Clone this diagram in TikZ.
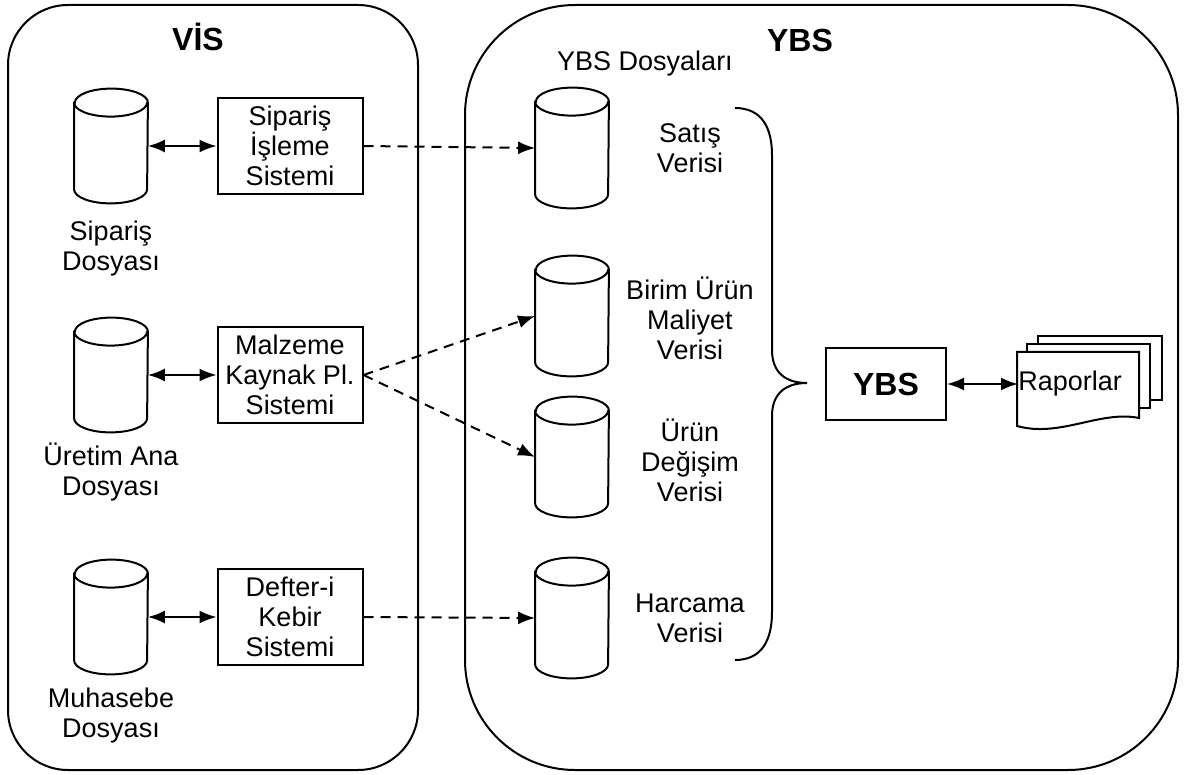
\documentclass[tikz,border=0pt]{standalone}
\usepackage{fontspec}
\setmainfont{Liberation Sans}
\usepackage{tikz}
\usetikzlibrary{arrows.meta, positioning}

\begin{document}
\begin{tikzpicture}[
        x=0.5pt, y=-0.5pt,
        font=\fontsize{13.5pt}{15pt}\selectfont,
        frame/.style={draw, line width=1pt, minimum height=382.5pt, inner sep=0pt},
        title/.style={font=\fontsize{16pt}{19pt}\selectfont\bfseries},
        sysbox/.style={rectangle, draw, line width=1pt, fill=white, minimum width=72.5pt, minimum height=48pt, align=center, inner sep=0pt},
        dbase/.style={rectangle, minimum width=36.5pt, minimum height=57pt, inner sep=0pt},
        caption/.style={align=center, inner sep=0pt},
        link/.style={draw, line width=1pt, {Latex[length=8.5pt,width=6.5pt]}-{Latex[length=8.5pt,width=6.5pt]}},
        feed/.style={draw, line width=1pt, dash pattern=on 5pt off 3.5pt, -{Latex[length=8.5pt,width=6.5pt]}}
    ]
        \useasboundingbox (0,0) rectangle (1184,775);

        % Frames
        \node [frame, rounded corners=30pt, minimum width=205pt] (vis) at (213,387.5) {};
        \node [frame, rounded corners=55pt, minimum width=356.5pt] (ybsarea) at (821.5,387.5) {};
        \node [title] (vistitle) at (198,37) {VİS};
        \node [title] (ybstitle) at (800,40) {YBS};
        \node (ybsfiles) at (645,64) {YBS Dosyaları};

        % VIS: files and systems
        \node [dbase] (siparisdb) at (111,146) {};
        \node [dbase] (uretimdb) at (111,375) {};
        \node [dbase] (muhasebedb) at (111,617) {};
        \node [caption] (siparisdbl) at (111,249) {Sipariş\\Dosyası};
        \node [caption] (uretimdbl) at (111,472) {Üretim Ana\\Dosyası};
        \node [caption] (muhasebedbl) at (111,716) {Muhasebe\\Dosyası};

        \node [sysbox] (siparis) at (290,146) {Sipariş\\İşleme\\Sistemi};
        \node [sysbox] (malzeme) at (290,375) {Malzeme\\Kaynak Pl.\\Sistemi};
        \node [sysbox] (defter) at (290,617) {Defter-i\\Kebir\\Sistemi};

        % YBS files
        \node [dbase, minimum height=60pt] (satis) at (572,148) {};
        \node [dbase, minimum height=60pt] (birim) at (572,316) {};
        \node [dbase, minimum height=60pt] (degisim) at (572,457) {};
        \node [dbase, minimum height=60pt] (harcama) at (572,618) {};
        \node [caption] (satisl) at (690,148) {Satış\\Verisi};
        \node [caption] (biriml) at (690,318) {Birim Ürün\\Maliyet\\Verisi};
        \node [caption] (degisiml) at (690,460) {Ürün\\Değişim\\Verisi};
        \node [caption] (harcamal) at (690,618) {Harcama\\Verisi};

        % Cylinders
        \foreach \db in {siparisdb, uretimdb, muhasebedb, satis, birim, degisim, harcama}
            \draw [line width=1pt, fill=white] ([yshift=-7pt]\db.north west) -- ([yshift=7pt]\db.south west)
                arc [start angle=180, end angle=360, x radius=18.25pt, y radius=7pt]
                -- ([yshift=-7pt]\db.north east)
                arc [start angle=0, end angle=180, x radius=18.25pt, y radius=7pt] -- cycle
                ([yshift=-7pt]\db.north west) arc [start angle=180, end angle=360, x radius=18.25pt, y radius=7pt];

        % Brace
        \draw [line width=1pt] (735,108) .. controls (762,108) and (772,128) .. (772,155) -- (772,350)
            .. controls (772,372) and (785,383) .. (807,383)
            .. controls (785,383) and (772,394) .. (772,416) -- (772,612)
            .. controls (772,640) and (762,660) .. (735,660);

        % YBS and reports
        \node [sysbox, minimum width=60pt, minimum height=36pt, font=\fontsize{16pt}{19pt}\selectfont\bfseries] (ybsbox) at (886,384) {YBS};
        \filldraw [fill=white, line width=1pt] (1038,336) rectangle (1162,400);
        \filldraw [fill=white, line width=1pt] (1027,344) rectangle (1150,408);
        \filldraw [fill=white, line width=1pt] (1017,352) -- (1139,352) -- (1139,418)
            .. controls (1100,410) and (1060,438) .. (1017,426) -- cycle;
        \node [anchor=west, inner sep=0pt] (raporlar) at (1018,384) {Raporlar};

        % Connections
        \draw [link] (siparisdb.east) -- (siparis.west);
        \draw [link] (uretimdb.east) -- (malzeme.west);
        \draw [link] (muhasebedb.east) -- (defter.west);
        \draw [feed] (siparis.east) -- (satis.west);
        \draw [feed] (malzeme.east) -- (birim.west);
        \draw [feed] (malzeme.east) -- (degisim.west);
        \draw [feed] (defter.east) -- (harcama.west);
        \draw [link] (ybsbox.east) -- (raporlar.west);
    \end{tikzpicture}
\end{document}
